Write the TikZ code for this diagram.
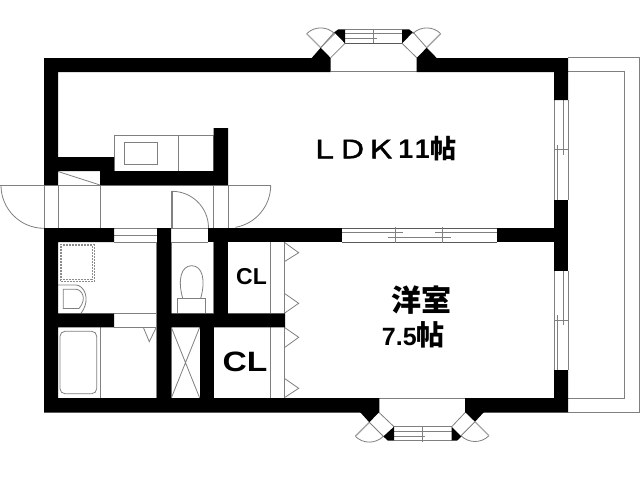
\documentclass[tikz,border=0pt]{standalone}
\usepackage{fontspec}
\setmainfont{Liberation Sans}
\newfontfamily\cjk{Noto Sans CJK JP}
\newfontfamily\cjkm[FakeBold=1.6]{Noto Sans CJK JP}
\tikzset{
  wall/.style={fill=black,draw=none},
  ln/.style={draw=black!50,line width=0.8pt},
  thk/.style={draw=black!50,line width=1.3pt},
  dk/.style={draw=black!65,line width=0.9pt},
  dots/.style={draw=black!45,line width=0.5pt,densely dotted},
  lab/.style={inner sep=0pt,text=black,font=\bfseries}
}
\begin{document}
\begin{tikzpicture}[x=1pt,y=-1pt]
\useasboundingbox[fill=white] (0,0) rectangle (640,480);
% balcony
\draw[ln] (568,57.7) -- (639.3,57.7) -- (639.3,412.3) -- (568,412.3);
\draw[ln] (568,71.5) -- (624,71.5) -- (624,398.3) -- (568,398.3);
% corridor
\draw[thk] (0,185.3) -- (44,185.3);
\draw[ln] (44,185.3) -- (228,185.3);
\draw[thk] (228,185.3) -- (270.7,185.3);
\draw[ln] (44,228) -- (342,228);
\draw[ln] (44,185) -- (44,228) (58,185) -- (58,228) (100,185) -- (100,228) (213.5,185) -- (213.5,228) (228,185) -- (228,228);
\draw[ln] (1,185.3) arc[start angle=180,end angle=90,radius=43];
\draw[ln] (270.7,185.3) arc[start angle=0,end angle=80,radius=42.7];
\draw[thk] (172,191.3) -- (172,228);
\draw[ln] (172,191.3) arc[start angle=-90,end angle=0,radius=36.5];
\draw[ln] (58,171.5) -- (100,185);
% kitchen
\draw[ln] (114,171) -- (114,135.3) -- (213.5,135.3) -- (213.5,171);
\draw[ln] (178.3,135.3) -- (178.3,171);
\draw[ln] (124.3,142.3) rectangle (157.7,164.3);
% openings in the wall y=228..242
\draw[ln] (114,235.7) -- (157,235.7) (114,242) -- (157,242) (171,242) -- (208,242);
% wash room
\draw[dots] (60,244) rectangle (94.3,281);
\draw[dots] (61.7,245.7) rectangle (92.6,279.3);
\draw[ln] (58,285) -- (76,285) .. controls (83,285) and (92,298) .. (81,313.3);
\draw[ln] (63.3,289.3) -- (76,289.3) .. controls (81,289.3) and (88,298) .. (79,308.5) -- (63.3,308.5) -- cycle;
\draw[ln] (114,313.3) -- (157,313.3) (114,327.3) -- (157,327.3);
\draw[ln] (156.8,242) -- (156.8,398);
% bath
\draw[ln] (100.3,327.3) -- (100.3,398);
\draw[ln] (60,336.3) arc[start angle=180,end angle=270,radius=5] -- (91.7,331.3) arc[start angle=-90,end angle=0,radius=5] -- (96.7,388.7) arc[start angle=0,end angle=90,radius=5] -- (65,393.7) arc[start angle=90,end angle=180,radius=5] -- cycle;
\draw[ln] (143.3,327.3) -- (149.3,341.7) -- (156.3,327.3);
% toilet
\draw[ln] (171.3,242) -- (171.3,398);
\draw[ln] (213.7,242) -- (213.7,313);
\draw[ln] (177.3,313) -- (177.3,298.3) -- (205.7,298.3) -- (205.7,313);
\draw[ln] (182.7,298.3) .. controls (177.5,280) and (181,265.7) .. (191.7,265.7) .. controls (202.4,265.7) and (205.9,280) .. (200.7,298.3);
% closet with X
\draw[ln] (171.3,327.3) -- (199.7,398) (199.7,327.3) -- (171.3,398);
% CL closets
\draw[ln] (270.7,242) -- (270.7,313) (270.7,327) -- (270.7,398);
\draw[ln] (284.3,242) -- (284.3,398);
\draw[ln] (284.3,242.3) -- (298.7,252.7) -- (284.3,261.7);
\draw[ln] (284.3,293.3) -- (298.7,303.3) -- (284.3,313.3);
\draw[ln] (284.3,327.3) -- (298.7,337.3) -- (284.3,347.7);
\draw[ln] (284.3,378.3) -- (298.7,388.3) -- (284.3,397.7);
% window between rooms
\draw[dk] (342,228) -- (497,228) (342,242.2) -- (497,242.2);
\draw[ln] (342,232.3) -- (403,232.3) (435,232.3) -- (497,232.3) (388,237.3) -- (451,237.3);
\draw[ln] (395.7,227) -- (395.7,243) (442.7,227) -- (442.7,243);
% east windows
\draw[ln] (554,100) -- (554,200) (568,100) -- (568,200) (554,270.7) -- (554,370) (568,270.7) -- (568,370);
\draw[ln] (563.3,100) -- (563.3,155) (557.7,145) -- (557.7,200) (554,149.3) -- (568,149.3);
\draw[ln] (563.3,270.7) -- (563.3,325) (557.7,315) -- (557.7,370) (554,320) -- (568,320);
% top bay
\draw[ln] (330.7,71.7) -- (416.7,71.7);
\draw[ln] (330.7,57.7) -- (345,43.3) (416.7,57.7) -- (402,43.3);
\draw[ln] (320.7,47.7) -- (334.5,32) (426.7,47.7) -- (412.9,32);
\draw[ln] (345,29.3) -- (402,29.3) (345,33.7) -- (402,33.7) (345,38.3) -- (377,38.3);
\draw[ln] (373.3,28.5) -- (373.3,44);
\draw[dk] (345,43.3) -- (402,43.3);
\draw[ln] (334.7,33.7) arc[start angle=-45,end angle=-135,radius=19.8];
\draw[thk,black!35] (306.7,33.7) -- (320.7,47.7);
\draw[ln] (320.7,47.7) -- (334.7,33.7);
\draw[ln] (440.7,33.7) arc[start angle=-45,end angle=-135,radius=19.8];
\draw[thk,black!35] (440.7,33.7) -- (426.7,47.7);
% bottom bay
\draw[ln] (379.3,398.3) -- (465,398.3);
\draw[ln] (379.3,412.7) -- (394,426.7) (465,412.7) -- (451.7,426.7);
\draw[ln] (394,426.7) -- (451.7,426.7) (394,440.7) -- (451.7,440.7);
\draw[ln] (394,431.7) -- (451.7,431.7) (394,436.7) -- (425,436.7);
\draw[ln] (422.3,426) -- (422.3,441.5);
\draw[ln] (383.3,436.3) arc[start angle=45,end angle=135,radius=19.8];
\draw[thk,black!35] (355.3,436.3) -- (369.3,422.3);
\draw[ln] (369.3,422.3) -- (383.3,436.3);
\draw[ln] (489,435.7) arc[start angle=45,end angle=135,radius=19.8];
\draw[thk,black!35] (489,435.7) -- (475,421.7);
\draw[ln] (475,421.7) -- (461,435.7);
% walls
\fill[wall] (44,58) -- (330.7,58) -- (330.7,72) -- (58,72) -- (58,157) -- (114,157) -- (114,171) -- (58,171) -- (58,185) -- (44,185) -- cycle;
\fill[wall] (416.7,58) -- (568,58) -- (568,100) -- (554,100) -- (554,72) -- (416.7,72) -- cycle;
\fill[wall] (100,171) -- (213.5,171) -- (213.5,128) -- (228,128) -- (228,185) -- (100,185) -- cycle;
\fill[wall] (554,200) rectangle (568,270.7);
\fill[wall] (497,228) rectangle (554,242);
\fill[wall] (208,228) rectangle (342,242);
\fill[wall] (554,370) -- (568,370) -- (568,412.5) -- (465,412.5) -- (465,398) -- (554,398) -- cycle;
\fill[wall] (44,228) -- (114,228) -- (114,242) -- (58,242) -- (58,313.3) -- (114,313.3) -- (114,327.3) -- (58,327.3) -- (58,398) -- (157,398) -- (157,228) -- (171,228) -- (171,313.3) -- (285,313.3) -- (285,327.3) -- (171,327.3) -- (171,398) -- (379.3,398) -- (379.3,412.5) -- (44,412.5) -- cycle;
\fill[wall] (200,327) rectangle (214,398);
\fill[wall] (213.7,242) rectangle (227.8,313.5);
% black triangles of the bays
\fill[wall] (311.7,58) -- (320.7,47.7) -- (330.7,58) -- cycle;
\fill[wall] (416.7,58) -- (426.7,47.7) -- (436.7,58) -- cycle;
\fill[wall] (338.3,29.3) -- (345,29.3) -- (345,43.3) -- (334.3,32.3) -- cycle;
\fill[wall] (409,29.3) -- (402,29.3) -- (402,43.3) -- (412.9,32.3) -- cycle;
\fill[wall] (360,412) -- (369.3,422.3) -- (379.3,412) -- cycle;
\fill[wall] (465,412) -- (475,421.7) -- (484,412) -- cycle;
\fill[wall] (394,426.7) -- (383.3,436.5) -- (388,440.7) -- (394,440.7) -- cycle;
\fill[wall] (451.7,426.7) -- (461.5,436.5) -- (457,440.7) -- (451.7,440.7) -- cycle;
% texts
\node[lab,anchor=base west] (ldk) at (308.5,158.3) {\fontsize{24}{24}\selectfont{\mdseries\cjkm\scalebox{1.3}[1.05]{Ｌ}\kern-3pt\scalebox{1.3}[1.05]{Ｄ}\kern-3pt\scalebox{1.3}[1.05]{Ｋ}}\kern2pt\fontsize{27}{27}\selectfont 1\kern1.5pt 1\kern1pt{\cjk\bfseries\fontsize{26}{26}\selectfont 帖}};
\node[lab,anchor=base west] (yo) at (391,311) {\fontsize{30}{30}\selectfont\cjk\bfseries 洋室};
\node[lab,anchor=base west] (sz) at (381.7,345) {\fontsize{25}{25}\selectfont 7.5{\cjk\bfseries\fontsize{28}{28}\selectfont 帖}};
\node[lab] (cla) at (251.5,276.7) {\fontsize{23}{23}\selectfont CL};
\node[lab,xscale=1.2] (clb) at (245,361.7) {\fontsize{28}{28}\selectfont CL};
\end{tikzpicture}
\end{document}
